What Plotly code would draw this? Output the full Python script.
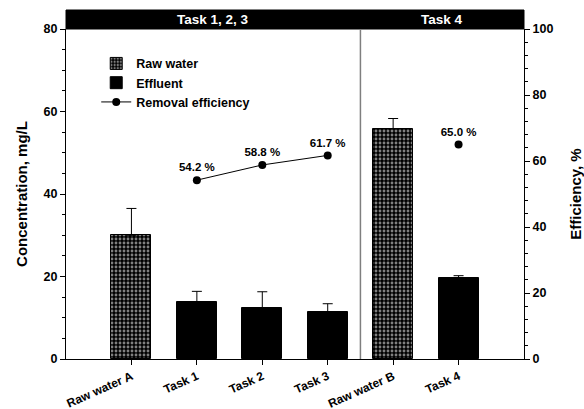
import plotly.graph_objects as go

categories = ["Raw water A", "Task 1", "Task 2", "Task 3", "Raw water B", "Task 4"]
positions = [1, 2, 3, 4, 5, 6]
concentration = [30.0, 13.8, 12.4, 11.5, 55.8, 19.6]
conc_error = [6.5, 2.6, 3.9, 1.9, 2.5, 0.6]
is_raw = [True, False, False, False, True, False]
efficiency = [None, 54.2, 58.8, 61.7, None, 65.0]
eff_labels = ["", "54.2 %", "58.8 %", "61.7 %", "", "65.0 %"]
group_labels = ["Task 1, 2, 3", "Task 4"]
group_bounds = [(0, 4.5), (4.5, 7)]

FONT = "Liberation Sans, Arial, sans-serif"
PLOT_H = 330

fig = go.Figure()

raw_x = [p for p, r in zip(positions, is_raw) if r]
raw_y = [c for c, r in zip(concentration, is_raw) if r]
raw_e = [e for e, r in zip(conc_error, is_raw) if r]
eff_x = [p for p, r in zip(positions, is_raw) if not r]
eff_y = [c for c, r in zip(concentration, is_raw) if not r]
eff_e = [e for e, r in zip(conc_error, is_raw) if not r]

fig.add_trace(go.Bar(
    x=raw_x, y=raw_y, name="Raw water", width=0.61,
    marker=dict(color="black", line=dict(color="black", width=1),
                pattern=dict(shape=".", fgcolor="white", bgcolor="black", size=4, solidity=0.4)),
    error_y=dict(type="data", array=raw_e, arrayminus=[0]*len(raw_e), symmetric=False,
                 color="black", thickness=1, width=5),
))
fig.add_trace(go.Bar(
    x=eff_x, y=eff_y, name="Effluent", width=0.61,
    marker=dict(color="black", line=dict(color="black", width=1)),
    error_y=dict(type="data", array=eff_e, arrayminus=[0]*len(eff_e), symmetric=False,
                 color="black", thickness=1, width=5),
))
fig.add_trace(go.Scatter(
    x=positions, y=efficiency, yaxis="y2", name="Removal efficiency",
    mode="lines+markers+text", text=eff_labels, textposition="top center",
    textfont=dict(family=FONT, size=11.5, color="black", weight="bold"),
    line=dict(color="black", width=1), marker=dict(color="black", size=8),
    connectgaps=False, cliponaxis=False,
))

fig.update_layout(
    width=584, height=409,
    margin=dict(l=66, r=60, t=29, b=50),
    plot_bgcolor="white", paper_bgcolor="white",
    font=dict(family=FONT, size=12, color="black"),
    barmode="overlay", bargap=0,
    showlegend=True,
    legend=dict(x=0.066, y=0.94, xanchor="left", yanchor="top",
                bgcolor="rgba(0,0,0,0)", tracegroupgap=0,
                font=dict(family=FONT, size=12.5, color="black", weight="bold")),
    xaxis=dict(range=[0, 7], tickvals=positions, ticktext=categories, tickangle=-24,
               showline=True, linecolor="black", linewidth=1, ticks="outside",
               ticklen=5, tickcolor="black", showgrid=False, zeroline=False,
               automargin=False,
               tickfont=dict(family=FONT, size=12, color="black", weight="bold")),
    yaxis=dict(range=[0, 80], tickvals=[0, 20, 40, 60, 80], showline=True,
               linecolor="black", linewidth=1, ticks="outside", ticklen=5,
               tickcolor="black", showgrid=False, zeroline=False, automargin=False,
               minor=dict(dtick=5, ticks="outside", ticklen=3, tickcolor="black"),
               title=dict(text="Concentration, mg/L", standoff=12,
                          font=dict(family=FONT, size=15, color="black", weight="bold")),
               tickfont=dict(family=FONT, size=12.5, color="black", weight="bold")),
    yaxis2=dict(range=[0, 100], tickvals=[0, 20, 40, 60, 80, 100], overlaying="y",
                side="right", showline=True, linecolor="black", linewidth=1,
                ticks="outside", ticklen=5, tickcolor="black", showgrid=False,
                zeroline=False, automargin=False,
                minor=dict(dtick=4, ticks="outside", ticklen=3, tickcolor="black"),
                title=dict(text="Efficiency, %", standoff=19,
                           font=dict(family=FONT, size=15, color="black", weight="bold")),
                tickfont=dict(family=FONT, size=12.5, color="black", weight="bold")),
)

# group header band and divider
fig.add_shape(type="rect", xref="paper", yref="paper", x0=0, x1=1, y0=1, y1=1 + 19/PLOT_H,
              fillcolor="black", line=dict(color="black", width=1), layer="above")
for label, (a, b) in zip(group_labels, group_bounds):
    fig.add_annotation(x=(a + b) / 2, xref="x", y=1 + 9.5/PLOT_H, yref="paper",
                       text=label, showarrow=False, yanchor="middle",
                       font=dict(family=FONT, size=13.5, color="white", weight="bold"))
fig.add_shape(type="line", xref="x", yref="paper", x0=group_bounds[0][1], x1=group_bounds[0][1],
              y0=0, y1=1, line=dict(color="#7f7f7f", width=1.5))

fig.write_html("out.html", config={"displayModeBar": False},
               post_script="document.body.style.margin='0';")
